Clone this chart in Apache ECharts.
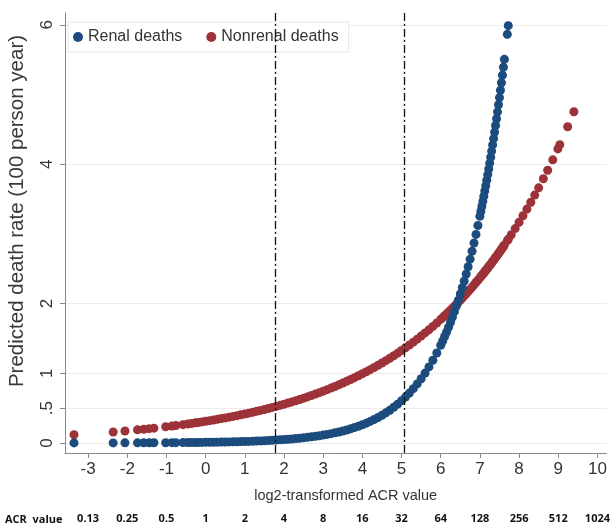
<!DOCTYPE html>
<html><head><meta charset="utf-8">
<script src="https://cdn.jsdelivr.net/npm/echarts@6/dist/echarts.min.js"></script>
<style>html,body{margin:0;padding:0;background:#fff}#c{width:613px;height:532px}</style>
</head><body><div id="c"></div>
<script>
// log2-transformed ACR value of each observation
const acrLog2 = [
  -3.36,-2.36,-2.06,-1.74,-1.58,-1.44,-1.32,-1.02,-0.86,-0.76,-0.58,-0.46,-0.36,-0.26,-0.18,-0.10,
  0.0,0.1,0.2,0.3,0.4,0.5,0.6,0.7,0.8,0.9,
  1.0,1.1,1.2,1.3,1.4,1.5,1.6,1.7,1.8,1.9,
  2.0,2.1,2.2,2.3,2.4,2.5,2.6,2.7,2.8,2.9,
  3.0,3.1,3.2,3.3,3.4,3.5,3.6,3.7,3.8,3.9,
  4.0,4.1,4.2,4.3,4.4,4.5,4.6,4.7,4.8,4.9,
  5.0,5.1,5.2,5.3,5.4,5.5,5.6,5.7,5.8,5.9,
  6.0,6.05,6.1,6.15,6.2,6.25,6.3,6.35,6.4,6.45,6.5,6.55,6.6,6.65,6.7,6.75,6.8,6.85,6.9,6.95,
  7.0,7.025,7.05,7.075,7.1,7.125,7.15,7.175,7.2,7.225,7.25,7.275,7.3,7.325,7.35,7.375,7.4,7.425,7.45,7.475,7.5,7.525,7.55,7.575,7.6,7.625,
  7.7,7.725,
  7.8,7.9,8.0,8.1,8.2,8.3,8.4,8.5,
  8.62,8.73,8.86,8.99,9.04,9.24,9.40
];
// Predicted renal death rate (100 person year)
const renalRate = [
  0.0005,0.0012,0.0016,0.0021,0.0024,0.0027,0.0030,0.0038,0.0044,0.0048,0.0055,0.0061,0.0067,0.0073,0.0078,0.0083,
  0.0090,0.0098,0.0107,0.0116,0.0126,0.0138,0.0150,0.0163,0.0177,0.0193,
  0.0209,0.0228,0.0248,0.0270,0.0293,0.0319,0.0347,0.0377,0.0410,0.0447,
  0.0486,0.0528,0.0574,0.0625,0.0680,0.0739,0.0804,0.0875,0.0952,0.1035,
  0.1126,0.1225,0.1332,0.1449,0.1577,0.1715,0.1865,0.2029,0.2207,0.2401,
  0.261,0.284,0.309,0.336,0.365,0.398,0.432,0.470,0.512,0.557,
  0.605,0.658,0.716,0.779,0.847,0.922,1.003,1.091,1.187,1.291,
  1.403,1.464,1.527,1.592,1.661,1.732,1.806,1.884,1.965,2.049,2.137,2.229,2.325,2.425,2.529,2.638,2.751,2.869,2.993,3.121,
  3.254,3.323,3.394,3.466,3.540,3.615,3.691,3.770,3.851,3.932,4.016,4.101,4.188,4.277,4.368,4.461,4.556,4.653,4.752,4.853,4.956,5.061,5.169,5.278,5.391,5.505,
  5.864,5.988,
  6.379,6.939,7.545,8.207,8.928,9.711,10.56,11.49,
  12.71,13.94,15.55,17.35,18.09,21.41,24.49
];
// Predicted nonrenal death rate (100 person year)
const nonrenalRate = [
  0.118,0.157,0.171,0.188,0.197,0.205,0.212,0.232,0.243,0.250,0.263,0.272,0.280,0.289,0.295,0.302,
  0.311,0.320,0.330,0.339,0.350,0.360,0.370,0.381,0.392,0.404,
  0.416,0.428,0.441,0.454,0.467,0.481,0.495,0.510,0.525,0.540,
  0.556,0.572,0.589,0.606,0.624,0.643,0.661,0.681,0.701,0.722,
  0.743,0.765,0.787,0.810,0.834,0.859,0.884,0.910,0.937,0.964,
  0.993,1.022,1.052,1.083,1.115,1.148,1.181,1.216,1.252,1.289,
  1.327,1.366,1.406,1.447,1.490,1.534,1.579,1.625,1.673,1.722,
  1.773,1.799,1.825,1.852,1.879,1.906,1.934,1.962,1.991,2.020,2.050,2.080,2.110,2.141,2.172,2.204,2.236,2.269,2.302,2.335,
  2.370,2.387,2.404,2.422,2.439,2.457,2.475,2.493,2.511,2.529,2.548,2.566,2.585,2.604,2.623,2.642,2.661,2.680,2.700,2.719,2.739,2.759,2.779,2.799,2.819,2.840,
  2.903,2.924,
  2.988,3.076,3.167,3.260,3.356,3.455,3.557,3.661,
  3.791,3.913,4.063,4.220,4.281,4.537,4.753
];
const xTicks = [-3,-2,-1,0,1,2,3,4,5,6,7,8,9,10];
const acrLabels = ['0.13','0.25','0.5','1','2','4','8','16','32','64','128','256','512','1024'];
const yTicks = [0,0.5,1,2,4,6];
const yTickLabels = ['0','.5','1','2','4','6'];
const cutoffs = [1.77, 5.08];
const seriesNames = ['Renal deaths','Nonrenal deaths'];

const SANS = '"Liberation Sans",Arial,sans-serif';
const XMIN = -3.59, XMAX = 10.23;

const chart = echarts.init(document.getElementById('c'), null, {renderer:'canvas'});
chart.setOption({
  animation: false,
  backgroundColor: '#fff',
  grid: {left: 65, right: 6, top: 13, bottom: 79, containLabel: false},
  legend: {
    data: seriesNames, left: 68, top: 22, orient: 'horizontal',
    padding: [7, 10, 7, 5], itemGap: 24, itemWidth: 10, itemHeight: 10, icon: 'circle',
    backgroundColor: '#fff', borderColor: '#e6e6e6', borderWidth: 1,
    textStyle: {fontFamily: SANS, fontSize: 16, color: '#333'}
  },
  xAxis: [{
    type: 'value', min: XMIN, max: XMAX,
    name: 'log2-transformed ACR value', nameLocation: 'middle', nameGap: 35,
    nameTextStyle: {fontFamily: SANS, fontSize: 14.5, color: '#333', padding: [0, 0, 0, 20]},
    axisLine: {show: true, onZero: false, lineStyle: {color: '#8a8a8a', width: 1}},
    axisTick: {show: true, customValues: xTicks, length: 5, lineStyle: {color: '#8a8a8a'}},
    axisLabel: {customValues: xTicks, margin: 8, fontFamily: SANS, fontSize: 17, color: '#333'},
    splitLine: {show: false}
  }, {
    type: 'value', min: XMIN, max: XMAX, position: 'bottom', offset: 58,
    axisLine: {show: false}, axisTick: {show: false}, splitLine: {show: false},
    axisLabel: {customValues: xTicks, margin: 2, fontFamily: '"Open Sans",sans-serif', fontWeight: 'bold', fontSize: 11, color: '#111',
      formatter: v => acrLabels[xTicks.indexOf(v)]}
  }],
  yAxis: {
    type: 'value', min: -0.144, max: 6.17,
    axisLine: {show: true, onZero: false, lineStyle: {color: '#8a8a8a', width: 1}},
    axisTick: {show: true, customValues: yTicks, length: 5, lineStyle: {color: '#8a8a8a'}},
    axisLabel: {customValues: yTicks, rotate: 90, margin: 9, fontFamily: SANS, fontSize: 17, color: '#333',
      formatter: v => yTickLabels[yTicks.indexOf(v)]},
    splitLine: {show: true, customValues: yTicks, lineStyle: {color: '#ececec', width: 1}}
  },
  graphic: [
    {type: 'text', x: 17, y: 211, rotation: Math.PI / 2,
     style: {text: 'Predicted death rate (100 person year)', fontFamily: SANS, fontSize: 20.5,
             fill: '#3a3a3a', align: 'center', verticalAlign: 'middle'}},
    {type: 'text', left: 5, top: 514,
     style: {text: 'ACR  value', fontFamily: '"Open Sans",sans-serif', fontWeight: 'bold', fontSize: 11, fill: '#111'}}
  ],
  series: [
    {name: seriesNames[1], type: 'scatter', symbol: 'circle', symbolSize: 9,
     itemStyle: {color: '#9e3239', opacity: 1},
     data: acrLog2.map((x, i) => [x, nonrenalRate[i]])},
    {name: seriesNames[0], type: 'scatter', symbol: 'circle', symbolSize: 9,
     itemStyle: {color: '#1b4c7d', opacity: 1},
     data: acrLog2.map((x, i) => [x, renalRate[i]])},
    {type: 'scatter', data: [], z: 3, silent: true,
     markLine: {silent: true, symbol: 'none', label: {show: false}, animation: false,
       lineStyle: {color: '#111', width: 1.3, type: [8, 3, 2, 3]},
       data: cutoffs.map(v => ({xAxis: v}))}}
  ]
});
</script>
</body></html>
